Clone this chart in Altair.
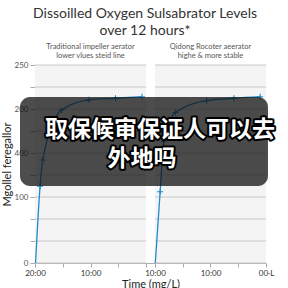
import json
import altair as alt
import pandas as pd

# ---------------- data ----------------
title_lines = ["Dissoilled Oxygen Sulsabrator Levels", "over 12 hours*"]
panel_names = ["Traditional impeller aerator", "Qidong Rocoter aeerator"]
panel_sub1 = ["Traditional impeller aerator", "Qidong Rocoter aeerator"]
panel_sub2 = ["lower vlues steid line", "highe & more stable"]

left_t = [0.06, 0.55, 0.83, 2.86, 5.83, 8.7, 11.56]
left_v = [0, 97, 130, 193, 206, 208, 210]
right_t = [0.03, 0.56, 0.95, 2.2, 5.58, 8.53, 11.37]
right_v = [0, 90, 153, 190, 205, 208, 210]

x_tick_hours = [0, 3, 6, 9, 12]
x_labels_left = ["20:00", "", "10:00", "", ""]
x_labels_right = ["10:00", "", "10:00", "", "00\u00b7L"]

y_max = 250
y_grid_count = 9
y_tick_labels = ["0", "", "", "100", "", "400", "", "200", "", "250"]

x_title = "Time (mg/L)"
y_title = "Mgollel feregallor"
overlay_line1 = "取保候审保证人可以去"
overlay_line2 = "外地吗"

# ---------------- layout helpers ----------------
PANEL_LEN = 12.0
GAP = 0.97
offsets = [0.0, PANEL_LEN + GAP]
x_max = offsets[1] + PANEL_LEN

line_df = pd.DataFrame(
    [{"panel": panel_names[0], "x": t + offsets[0], "v": v, "i": i} for i, (t, v) in enumerate(zip(left_t, left_v))]
    + [{"panel": panel_names[1], "x": t + offsets[1], "v": v, "i": i} for i, (t, v) in enumerate(zip(right_t, right_v))]
)
point_df = line_df[line_df["v"] > 0]

bg_df = pd.DataFrame({"x": offsets, "x2": [o + PANEL_LEN for o in offsets]})
y_ticks = [k * y_max / y_grid_count for k in range(y_grid_count + 1)]
grid_df = pd.DataFrame(
    [{"x": o, "x2": o + PANEL_LEN, "y": yv} for o in offsets for yv in y_ticks]
)
sub_df = pd.DataFrame({"x": [o + PANEL_LEN / 2 for o in offsets], "s1": panel_sub1, "s2": panel_sub2})

x_tick_vals = [h + offsets[0] for h in x_tick_hours] + [h + offsets[1] for h in x_tick_hours]
x_tick_labels = x_labels_left + x_labels_right
x_keys = [int(round(v * 100)) for v in x_tick_vals]
x_label_expr = f"{json.dumps(x_tick_labels)}[indexof({json.dumps(x_keys)}, round(datum.value*100))]"
y_label_expr = f"{json.dumps(y_tick_labels)}[round(datum.value*{y_grid_count}/{y_max})]"

xscale = alt.Scale(domain=[0, x_max], nice=False, zero=False)
yscale = alt.Scale(domain=[0, y_max], nice=False)

FONT = "Lato"
BLUE = "#1e8ccc"

x_axis = alt.Axis(
    values=x_tick_vals, labelExpr=x_label_expr, grid=False, title=x_title,
    labelFontSize=8, labelColor="#333", labelFont=FONT, labelOverlap=False, labelFlush=False,
    tickColor="#aaa", tickSize=4, domainColor="#aaa",
    titleFontSize=11, titleFontWeight="normal", titleColor="#222", titleFont=FONT, titlePadding=1,
)
y_axis = alt.Axis(
    values=y_ticks, labelExpr=y_label_expr, grid=False, title=y_title,
    labelFontSize=8, labelColor="#555", labelFont=FONT,
    tickColor="#aaa", tickSize=5, domainColor="#aaa",
    titleFontSize=11, titleFontWeight="normal", titleColor="#222", titleFont=FONT, titlePadding=2,
)


def X(field):
    return alt.X(field, type="quantitative", scale=xscale, axis=x_axis)


def Y(field):
    return alt.Y(field, type="quantitative", scale=yscale, axis=y_axis)


bg = alt.Chart(bg_df).mark_rect(color="#f4f4f4").encode(
    x=X("x"), x2="x2:Q", y=alt.value(0), y2=alt.value(198),
)
grid = alt.Chart(grid_df).mark_rule(color="#c8c8c8", strokeWidth=1).encode(
    x=X("x"), x2="x2:Q", y=Y("y"),
)
lines = alt.Chart(line_df).mark_line(color=BLUE, strokeWidth=1.3, interpolate="monotone").encode(
    x=X("x"), y=Y("v"), detail="panel:N", order="i:Q",
)
pts = alt.Chart(point_df).mark_point(
    shape="M-1,0L1,0M0,-1L0,1", filled=False, color=BLUE, strokeWidth=1.1, size=36, opacity=1
).encode(x=X("x"), y=Y("v"))

sub1 = alt.Chart(sub_df).mark_text(fontSize=7.5, color="#555", font=FONT, baseline="middle").encode(
    x=X("x"), y=alt.value(-18), text="s1:N")
sub2 = alt.Chart(sub_df).mark_text(fontSize=7.5, color="#555", font=FONT, baseline="middle").encode(
    x=X("x"), y=alt.value(-9), text="s2:N")

title_df = pd.DataFrame({"t": title_lines, "k": [0, 1]})
title1 = alt.Chart(title_df[title_df.k == 0]).mark_text(
    fontSize=14, color="#333", font=FONT, baseline="middle", align="center"
).encode(x=alt.value(110), y=alt.value(-51), text="t:N")
title2 = alt.Chart(title_df[title_df.k == 1]).mark_text(
    fontSize=14, color="#333", font=FONT, baseline="middle", align="center"
).encode(x=alt.value(110), y=alt.value(-34), text="t:N")

ov_df = pd.DataFrame({"a": [0]})
ov_rect = alt.Chart(ov_df).mark_rect(color="#111", opacity=0.75, cornerRadius=10).encode(
    x=alt.value(-15), x2=alt.value(233), y=alt.value(32), y2=alt.value(121))

CJK = "Noto Sans CJK SC"


def overlay_text(txt, px, py):
    d = pd.DataFrame({"t": [txt]})
    out = alt.Chart(d).mark_text(
        font=CJK, fontSize=23, fontWeight="bold", color="black", stroke="black", strokeWidth=4,
        strokeJoin="round", baseline="middle", align="center"
    ).encode(x=alt.value(px), y=alt.value(py), text="t:N")
    inn = alt.Chart(d).mark_text(
        font=CJK, fontSize=23, fontWeight="bold", color="white", baseline="middle", align="center"
    ).encode(x=alt.value(px), y=alt.value(py), text="t:N")
    return [out, inn]


ov_texts = overlay_text(overlay_line1, 125, 65) + overlay_text(overlay_line2, 107, 94)

chart = alt.layer(bg, grid, lines, pts, sub1, sub2, title1, title2, ov_rect, *ov_texts).properties(
    width=231, height=198,
    autosize=alt.AutoSizeParams(type="none"),
    padding={"left": 35, "top": 65, "right": 22, "bottom": 25},
    background="white",
).configure_view(stroke=None)

chart.save("out.html", embed_options={"renderer": "svg", "actions": False})
